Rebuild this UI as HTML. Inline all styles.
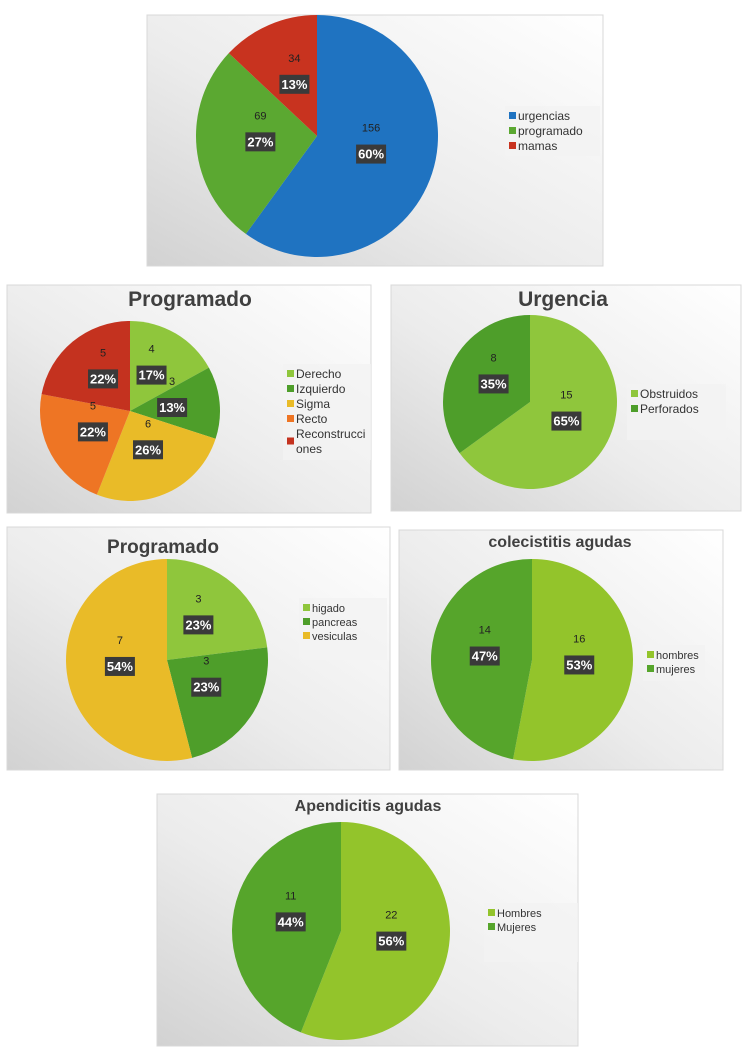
<!DOCTYPE html>
<html><head><meta charset="utf-8">
<style>
body{margin:0;width:750px;height:1061px;background:#fff;overflow:hidden;font-family:"Liberation Sans",sans-serif;}
svg{position:absolute;left:0;top:0}
</style></head>
<body>
<svg id="s" width="750" height="1061" viewBox="0 0 750 1061" xmlns="http://www.w3.org/2000/svg">
<defs>
<linearGradient id="bg" x1="1" y1="0" x2="0" y2="1">
<stop offset="0" stop-color="#ffffff"/><stop offset="0.55" stop-color="#ececec"/><stop offset="1" stop-color="#d2d2d2"/>
</linearGradient>
</defs>
</svg>
<script>
// Chart 1
const c1Labels=["urgencias","programado","mamas"];
const c1Counts=[156,69,34];
const c1Pcts=[60,27,13];
// Chart 2
const c2Labels=["Derecho","Izquierdo","Sigma","Recto","Reconstrucciones"];
const c2Counts=[4,3,6,5,5];
const c2Pcts=[17,13,26,22,22];
// Chart 3
const c3Labels=["Obstruidos","Perforados"];
const c3Counts=[15,8];
const c3Pcts=[65,35];
// Chart 4
const c4Labels=["higado","pancreas","vesiculas"];
const c4Counts=[3,3,7];
const c4Pcts=[23,23,54];
// Chart 5
const c5Labels=["hombres","mujeres"];
const c5Counts=[16,14];
const c5Pcts=[53,47];
// Chart 6
const c6Labels=["Hombres","Mujeres"];
const c6Counts=[22,11];
const c6Pcts=[56,44];

const NS="http://www.w3.org/2000/svg";
const svg=document.getElementById('s');
function mk(tag,attrs,parent){const e=document.createElementNS(NS,tag);for(const k in attrs)e.setAttribute(k,attrs[k]);(parent||svg).appendChild(e);return e;}

const charts=[
 {name:'chart-total',box:[147,15,456,251],cx:317,cy:136,r:121,labels:c1Labels,counts:c1Counts,pcts:c1Pcts,colors:['#1f73c1','#5ba831','#c8331f'],title:null,leg:[505,106,95,50],lfs:12,legLines:null},
 {name:'chart-programado-colon',box:[7,285,364,228],cx:130,cy:411,r:90,labels:c2Labels,counts:c2Counts,pcts:c2Pcts,colors:['#8fc63c','#4e9e2a','#e9bb28','#ee7524','#c4321f'],title:'Programado',tx:190,ty:306,tfs:21,leg:[283,364,88,96],lfs:12},
 {name:'chart-urgencia',box:[391,285,350,226],cx:530,cy:402,r:87,labels:c3Labels,counts:c3Counts,pcts:c3Pcts,colors:['#8fc63c','#4e9e2a'],title:'Urgencia',tx:563,ty:306,tfs:21,leg:[627,384,99,56],lfs:12},
 {name:'chart-programado-hepatobiliar',box:[7,527,383,243],cx:167,cy:660,r:101,labels:c4Labels,counts:c4Counts,pcts:c4Pcts,colors:['#8fc63c','#4e9e2a','#e9bb28'],title:'Programado',tx:163,ty:553,tfs:19,leg:[299,598,88,62],lfs:11},
 {name:'chart-colecistitis',box:[399,530,324,240],cx:532,cy:660,r:101,labels:c5Labels,counts:c5Counts,pcts:c5Pcts,colors:['#93c42b','#56a52b'],title:'colecistitis agudas',tx:560,ty:547,tfs:16,leg:[643,645,62,36],lfs:11},
 {name:'chart-apendicitis',box:[157,794,421,252],cx:341,cy:931,r:109,labels:c6Labels,counts:c6Counts,pcts:c6Pcts,colors:['#93c42b','#56a52b'],title:'Apendicitis agudas',tx:368,ty:811,tfs:16,leg:[484,903,94,59],lfs:11},
];

charts.forEach(c=>{
 const g=mk('g',{});
 
 
 const [bx,by,bw,bh]=c.box;
 const bg=mk('rect',{x:bx,y:by,width:bw,height:bh,fill:'url(#bg)',stroke:'#d8d8d8'},g);
 
 
 if(c.title){
  const t=mk('text',{x:c.tx,y:c.ty,'text-anchor':'middle','font-size':c.tfs,'font-weight':'bold',fill:'#404040'},g);
  t.textContent=c.title;
  
  
 }
 const total=c.pcts.reduce((a,b)=>a+b,0);
 let a0=0;
 const pt=(ang,rr)=>[c.cx+rr*Math.sin(ang),c.cy-rr*Math.cos(ang)];
 const mids=[];
 c.pcts.forEach((v,i)=>{
  const a1=a0+v/total*2*Math.PI;
  const [x0,y0]=pt(a0,c.r),[x1,y1]=pt(a1,c.r);
  const large=(a1-a0)>Math.PI?1:0;
  const p=mk('path',{d:`M${c.cx},${c.cy} L${x0},${y0} A${c.r},${c.r} 0 ${large} 1 ${x1},${y1} Z`,fill:c.colors[i]},g);
  
  
  mids.push((a0+a1)/2);
  a0=a1;
 });
 mids.forEach((m,i)=>{
  const [px,py]=pt(m,c.r*0.47);
  const lt=mk('text',{x:px,y:py-22,'text-anchor':'middle','font-size':11,fill:'#222'},g);
  lt.textContent=c.counts[i];
  
  
  const s=String(c.pcts[i])+'%';
  const w=s.length*8+6;
  const rb=mk('rect',{x:px-w/2,y:py-9,width:w,height:19,fill:'#3a3a3a'},g);
  
  
  const pt2=mk('text',{x:px,y:py+5,'text-anchor':'middle','font-size':13,'font-weight':'bold',fill:'#fff'},g);
  pt2.textContent=s;
  
  
 });
 const [lx,ly,lw,lh]=c.leg;
 const lg=mk('g',{},g);
 
 
 mk('rect',{x:lx,y:ly,width:lw,height:lh,fill:'#f2f2f2',opacity:0.8},lg);
 let yy=ly+4;
 const lh1=c.lfs+3;
 c.labels.forEach((l,i)=>{
  const e=mk('g',{},lg);
  
  
  let lines=[l];
  if(l==='Reconstrucciones')lines=['Reconstrucci','ones'];
  const sy=yy+(lines.length-1)*lh1/2;
  mk('rect',{x:lx+4,y:sy+2,width:7,height:7,fill:c.colors[i]},e);
  lines.forEach((ln,j)=>{
   const t=mk('text',{x:lx+13,y:yy+10+j*lh1,'font-size':c.lfs,fill:'#333'},e);
   t.textContent=ln;
  });
  yy+=lh1*lines.length;
 });
});
</script>
</body></html>
